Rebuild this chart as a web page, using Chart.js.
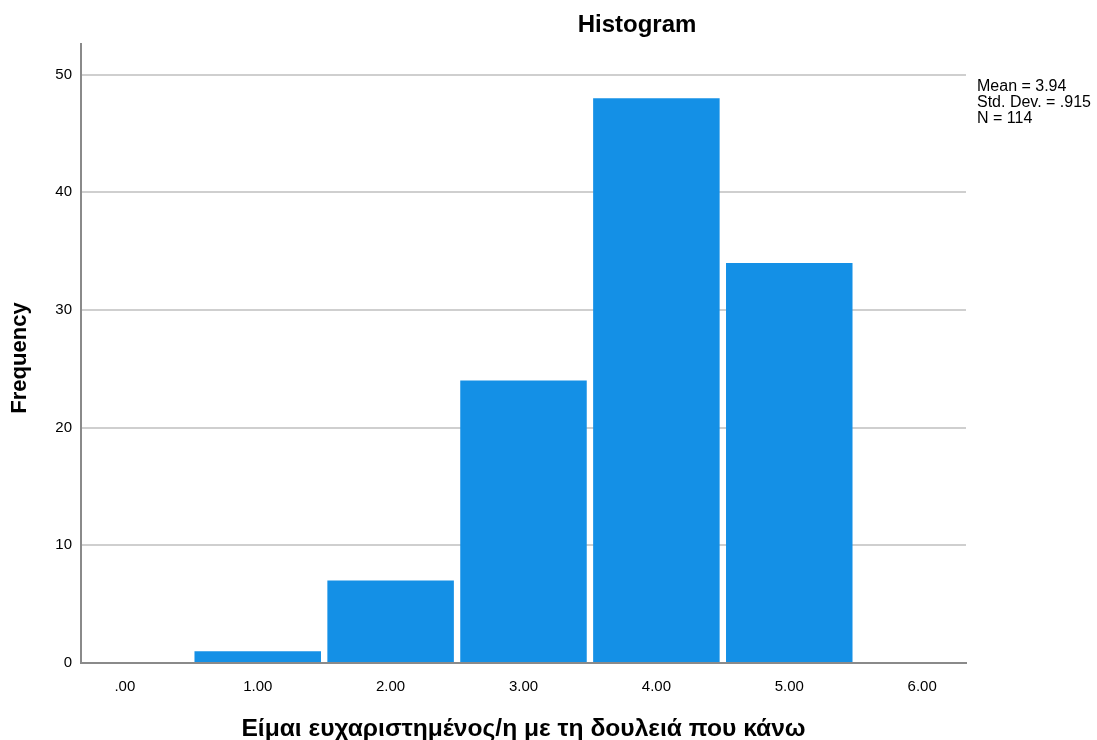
<!DOCTYPE html>
<html>
<head>
<meta charset="utf-8">
<script src="https://cdn.jsdelivr.net/npm/chart.js@4"></script>
<style>
  body { margin: 0; background: #fff; }
  canvas { display: block; }
</style>
</head>
<body>
<canvas id="histChart" width="1097" height="740"></canvas>
<script>
// histogram data
const binCenters = [1, 2, 3, 4, 5];
const frequencies = [1, 7, 24, 48, 34];
const xTickLabels = ['.00', '1.00', '2.00', '3.00', '4.00', '5.00', '6.00'];
const statsLines = ['Mean = 3.94', 'Std. Dev. = .915', 'N = 114'];
const chartTitle = 'Histogram';
const xTitle = 'Είμαι ευχαριστημένος/η με τη δουλειά που κάνω';
const yTitle = 'Frequency';

const FONT = 'Arial, "Liberation Sans", sans-serif';

// title, y title and stats box drawn on top of the canvas
const extraText = {
    id: 'extraText',
    afterDraw(chart) {
        const ctx = chart.ctx;
        const area = chart.chartArea;
        ctx.save();
        ctx.fillStyle = '#000';
        ctx.font = 'bold 24px ' + FONT;
        ctx.textAlign = 'center';
        ctx.textBaseline = 'middle';
        ctx.fillText(chartTitle, 637, 25);

        // rotated y axis title
        ctx.save();
        ctx.translate(20, 358);
        ctx.rotate(-Math.PI / 2);
        ctx.font = 'bold 22px ' + FONT;
        ctx.fillText(yTitle, 0, 0);
        ctx.restore();

        ctx.font = '16px ' + FONT;
        ctx.textAlign = 'left';
        statsLines.forEach((line, i) => {
            ctx.fillText(line, area.right + 11, 87 + i * 16);
        });
        ctx.restore();
    }
};

const ctx = document.getElementById('histChart').getContext('2d');
const histChart = new Chart(ctx, {
    type: 'bar',
    data: {
        datasets: [{
            label: 'Frequency',
            data: binCenters.map((c, i) => ({ x: c, y: frequencies[i] })),
            backgroundColor: 'rgb(20, 144, 230)',
            borderWidth: 0,
            barPercentage: 0.952,
            categoryPercentage: 1
        }]
    },
    options: {
        responsive: false,
        animation: false,
        layout: {
            padding: { left: 0, top: 44, right: 131, bottom: 0 }
        },
        plugins: {
            legend: { display: false },
            tooltip: { enabled: false }
        },
        scales: {
            x: {
                type: 'linear',
                min: -0.33,
                max: 6.33,
                offset: false,
                afterFit(scale) { scale.height = 77; },
                grid: { display: false, drawTicks: false },
                border: { display: true, color: '#8a8a8a', width: 2 },
                ticks: {
                    stepSize: 1,
                    includeBounds: false,
                    padding: 15,
                    color: '#000',
                    font: { family: FONT, size: 15 },
                    callback: (v) => xTickLabels[v] ?? ''
                },
                title: {
                    display: true,
                    text: xTitle,
                    color: '#000',
                    font: { family: FONT, size: 24.6, weight: 'bold' },
                    padding: { top: 0, bottom: -4 }
                }
            },
            y: {
                min: 0,
                max: 52.6,
                afterFit(scale) { scale.width = 81; },
                grid: { color: '#cfcfcf', lineWidth: 2, drawTicks: false },
                border: { display: true, color: '#8a8a8a', width: 2 },
                ticks: {
                    stepSize: 10,
                    includeBounds: false,
                    padding: 9,
                    color: '#000',
                    font: { family: FONT, size: 15 }
                },
                title: { display: false }
            }
        }
    },
    plugins: [extraText]
});
</script>
</body>
</html>
